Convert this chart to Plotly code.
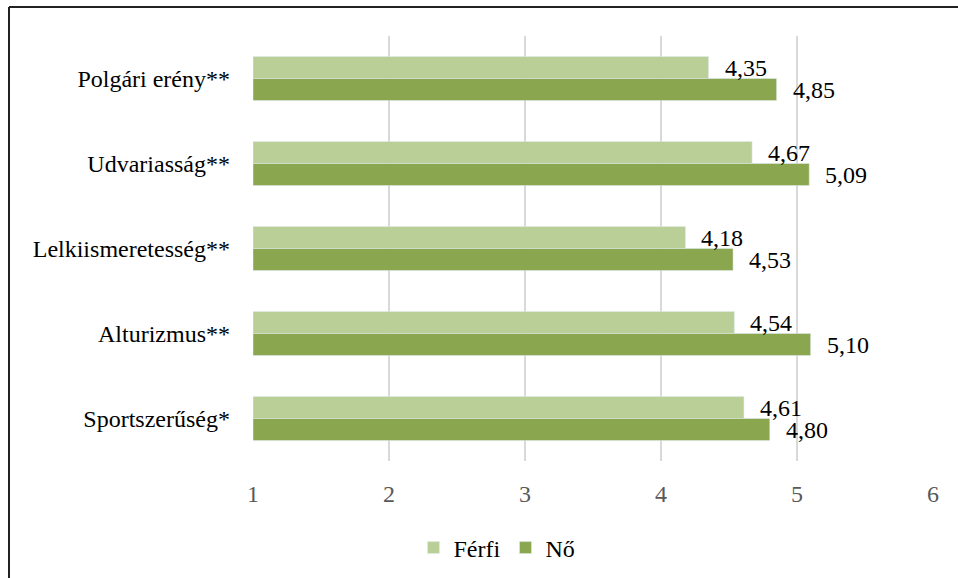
import plotly.graph_objects as go

categories = ["Polgári erény**", "Udvariasság**", "Lelkiismeretesség**", "Alturizmus**", "Sportszerűség*"]
ferfi = [4.35, 4.67, 4.18, 4.54, 4.61]
no = [4.85, 5.09, 4.53, 5.10, 4.80]
x_ticks = [1, 2, 3, 4, 5, 6]

def fmt(v):
    return f"{v:.2f}".replace(".", ",")

W, H = 958, 578
L, T = 253, 36
pw, ph = 680, 425
R, B = W - L - pw, H - T - ph
FONT = "Liberation Serif"
FS = 24

fig = go.Figure()
fig.add_trace(go.Bar(
    y=categories, x=[v - 1 for v in ferfi], base=1, orientation="h", name="Férfi",
    marker=dict(color="#BACF98"), hoverinfo="skip",
))
fig.add_trace(go.Bar(
    y=categories, x=[v - 1 for v in no], base=1, orientation="h", name="Nő",
    marker=dict(color="#8AA750"), hoverinfo="skip",
))

for vals, shift in ((ferfi, 11), (no, -11)):
    for c, v in zip(categories, vals):
        fig.add_annotation(x=v, y=c, xref="x", yref="y", text=fmt(v), showarrow=False,
                           xanchor="left", yanchor="middle", xshift=14, yshift=shift,
                           font=dict(family=FONT, size=FS, color="#000000"))

fig.update_layout(
    width=W, height=H,
    margin=dict(l=L, r=R, t=T, b=B, autoexpand=False),
    paper_bgcolor="white", plot_bgcolor="white",
    barmode="group", bargap=0.48, bargroupgap=0,
    font=dict(family=FONT, size=FS, color="#000000"),
    xaxis=dict(range=[1, 6], tickvals=x_ticks, ticktext=[str(t) for t in x_ticks],
               showgrid=True, gridcolor="#D9D9D9", gridwidth=1.5, zeroline=False,
               showline=False, tickfont=dict(size=FS, color="#595959"), ticklabelstandoff=16),
    yaxis=dict(autorange="reversed", showgrid=False, showline=False, ticks="",
               tickfont=dict(size=FS, color="#000000"), ticklabelstandoff=22),
    legend=dict(orientation="h", x=(497 - L) / pw, xanchor="center", y=(H - B - 548) / ph, yanchor="middle",
                font=dict(size=FS, color="#000000"), itemwidth=30, traceorder="normal"),
)

# outer frame: left and top edges only (the rest falls outside the picture)
left_x = (9 - L) / pw
top_y = (H - B - 7) / ph
fig.add_shape(type="line", xref="paper", yref="paper",
              x0=left_x, x1=left_x, y0=(H - B - (H + 30)) / ph, y1=top_y,
              line=dict(color="#222222", width=2), layer="above")
fig.add_shape(type="line", xref="paper", yref="paper",
              x0=left_x, x1=(W + 30 - L) / pw, y0=top_y, y1=top_y,
              line=dict(color="#222222", width=2), layer="above")

fig.write_html("out.html", config={"displayModeBar": False},
               post_script="document.body.style.margin='0';document.body.style.overflow='hidden';document.documentElement.style.overflow='hidden';")
